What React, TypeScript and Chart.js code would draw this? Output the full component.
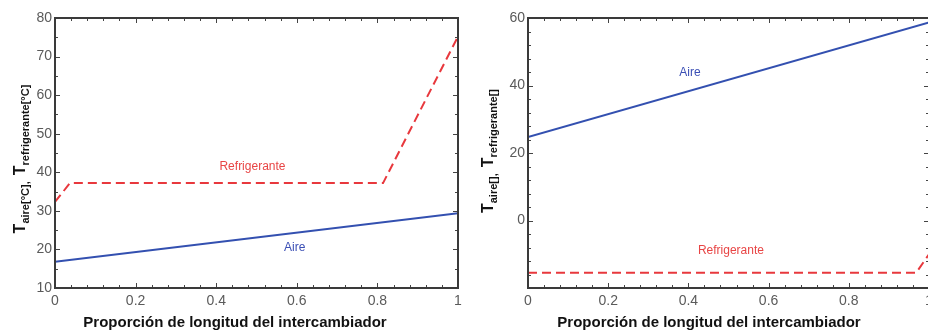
import React, { useEffect, useRef } from "react";
import { Chart, registerables } from "chart.js";
Chart.register(...registerables);

// ---- Data ----
const leftAireX = [0, 1];
const leftAireY = [16.8, 29.4];
const leftRefX = [0, 0.037, 0.814, 1];
const leftRefY = [32.3, 37.2, 37.2, 75.2];

const rightAireX = [0, 1];
const rightAireY = [24.7, 58.7];
const rightRefX = [0, 0.968, 1];
const rightRefY = [-15.5, -15.5, -10];

const xTickLabels = ["0", "0.2", "0.4", "0.6", "0.8", "1"];
const leftYRange = [10, 80];
const rightYRange = [-20, 60];

// inline series labels: [x, y] in data coords
const leftLabelRef = [0.49, 41.4];
const leftLabelAire = [0.595, 20.4];
const rightLabelAire = [0.404, 43.8];
const rightLabelRef = [0.506, -8.8];

const seriesNames = ["Aire", "Refrigerante"];
const xTitle = "Proporción de longitud del intercambiador";

const BLUE = "#3350b0";
const RED = "#e8383d";
const FONT = "'Liberation Sans', Arial, Helvetica, sans-serif";

type Cfg = {
  aire: { x: number[]; y: number[] };
  ref: { x: number[]; y: number[] };
  yMin: number;
  yMax: number;
  yStep: number;
  yMinor: number;
  hideY: number[];
  yAxisWidth: number;
  padRight: number;
  labelAire: number[];
  labelRef: number[];
  yTitleParts: [string, string, string, string];
  yTitleX: number;
  yTitleY: number;
  xTitleX: number;
};

function pts(xs: number[], ys: number[]) {
  return xs.map((x, i) => ({ x, y: ys[i] }));
}

function makeChart(canvas: HTMLCanvasElement, c: Cfg) {
  const decor = {
    id: "decor",
    afterDraw(chart: any) {
      const ctx = chart.ctx as CanvasRenderingContext2D;
      const a = chart.chartArea;
      const xs = chart.scales.x;
      const ys = chart.scales.y;
      ctx.save();
      // ticks inside on all four sides
      ctx.strokeStyle = "#444";
      ctx.lineWidth = 1;
      const xMinor = 0.04;
      for (let i = 0; i <= 25; i++) {
        const v = i * xMinor;
        const px = Math.round(xs.getPixelForValue(v)) + 0.5;
        const major = i % 5 === 0;
        const len = major ? 5 : 3;
        ctx.beginPath();
        ctx.moveTo(px, a.bottom);
        ctx.lineTo(px, a.bottom - len);
        ctx.moveTo(px, a.top);
        ctx.lineTo(px, a.top + len);
        ctx.stroke();
      }
      const nY = Math.round((c.yMax - c.yMin) / c.yMinor);
      const per = Math.round(c.yStep / c.yMinor);
      for (let i = 0; i <= nY; i++) {
        const v = c.yMin + i * c.yMinor;
        const py = Math.round(ys.getPixelForValue(v)) + 0.5;
        const major = i % per === 0;
        const len = major ? 5 : 3;
        ctx.beginPath();
        ctx.moveTo(a.left, py);
        ctx.lineTo(a.left + len, py);
        ctx.moveTo(a.right, py);
        ctx.lineTo(a.right - len, py);
        ctx.stroke();
      }
      // frame
      ctx.strokeStyle = "#3a3a3a";
      ctx.lineWidth = 2;
      ctx.strokeRect(a.left, a.top, a.right - a.left, a.bottom - a.top);

      // inline labels
      ctx.font = `12px ${FONT}`;
      ctx.textAlign = "center";
      ctx.textBaseline = "middle";
      ctx.fillStyle = "#3b4fb5";
      ctx.fillText(seriesNames[0], xs.getPixelForValue(c.labelAire[0]), ys.getPixelForValue(c.labelAire[1]));
      ctx.fillStyle = "#e84545";
      ctx.fillText(seriesNames[1], xs.getPixelForValue(c.labelRef[0]), ys.getPixelForValue(c.labelRef[1]));

      // x title
      ctx.fillStyle = "#111";
      ctx.font = `bold 15px ${FONT}`;
      ctx.textBaseline = "middle";
      ctx.fillText(xTitle, c.xTitleX, 323);

      // y title with subscripts (rotated)
      ctx.translate(c.yTitleX, c.yTitleY);
      ctx.rotate(-Math.PI / 2);
      ctx.textAlign = "left";
      ctx.textBaseline = "alphabetic";
      const big = `bold 16px ${FONT}`;
      const small = `bold 11px ${FONT}`;
      const segs: [string, string, number][] = [
        [c.yTitleParts[0], big, 0],
        [c.yTitleParts[1], small, 4],
        [c.yTitleParts[2], big, 0],
        [c.yTitleParts[3], small, 4],
      ];
      let total = 0;
      const widths = segs.map(([t, f]) => {
        ctx.font = f;
        const w = ctx.measureText(t).width;
        total += w;
        return w;
      });
      let x = -total / 2;
      segs.forEach(([t, f, dy], i) => {
        ctx.font = f;
        ctx.fillText(t, x, dy);
        x += widths[i];
      });
      ctx.restore();
    },
  };

  return new Chart(canvas, {
    type: "line",
    data: {
      datasets: [
        {
          label: seriesNames[0],
          data: pts(c.aire.x, c.aire.y),
          borderColor: BLUE,
          borderWidth: 2,
          pointRadius: 0,
          tension: 0,
        },
        {
          label: seriesNames[1],
          data: pts(c.ref.x, c.ref.y),
          borderColor: RED,
          borderWidth: 2,
          borderDash: [9, 5],
          pointRadius: 0,
          tension: 0,
        },
      ],
    },
    options: {
      animation: false,
      responsive: false,
      maintainAspectRatio: false,
      events: [],
      layout: { padding: { top: 18, right: c.padRight, left: 0, bottom: 0 } },
      plugins: { legend: { display: false }, tooltip: { enabled: false } },
      scales: {
        x: {
          type: "linear",
          min: 0,
          max: 1,
          grid: { display: false, drawTicks: false },
          border: { display: false },
          afterFit: (s: any) => {
            s.height = 43;
          },
          afterBuildTicks: (s: any) => {
            s.ticks = xTickLabels.map((l) => ({ value: parseFloat(l) }));
          },
          ticks: {
            color: "#5a5a5a",
            font: { family: FONT, size: 14 },
            padding: 5,
            maxRotation: 0,
            callback: (v: any) => {
              const i = xTickLabels.findIndex((l) => Math.abs(parseFloat(l) - v) < 1e-6);
              return i >= 0 ? xTickLabels[i] : "";
            },
          },
        },
        y: {
          type: "linear",
          min: c.yMin,
          max: c.yMax,
          grid: { display: false, drawTicks: false },
          border: { display: false },
          afterFit: (s: any) => {
            s.width = c.yAxisWidth;
          },
          ticks: {
            stepSize: c.yStep,
            color: "#5a5a5a",
            font: { family: FONT, size: 14 },
            padding: 3,
            callback: (v: any) => (c.hideY.includes(v) ? "" : String(v)),
          },
        },
      },
    },
    plugins: [decor],
  } as any);
}

export default function App() {
  const leftRef = useRef<HTMLCanvasElement>(null);
  const rightRef = useRef<HTMLCanvasElement>(null);

  useEffect(() => {
    document.body.style.margin = "0";
    const l = makeChart(leftRef.current!, {
      aire: { x: leftAireX, y: leftAireY },
      ref: { x: leftRefX, y: leftRefY },
      yMin: leftYRange[0],
      yMax: leftYRange[1],
      yStep: 10,
      yMinor: 5,
      hideY: [],
      yAxisWidth: 55,
      padRight: 16,
      labelAire: leftLabelAire,
      labelRef: leftLabelRef,
      yTitleParts: ["T", "aire[°C],  ", "T", "refrigerante[°C]"],
      yTitleX: 25,
      yTitleY: 159,
      xTitleX: 235,
    });
    const r = makeChart(rightRef.current!, {
      aire: { x: rightAireX, y: rightAireY },
      ref: { x: rightRefX, y: rightRefY },
      yMin: rightYRange[0],
      yMax: rightYRange[1],
      yStep: 20,
      yMinor: 4,
      hideY: [-20],
      yAxisWidth: 64,
      padRight: 15,
      labelAire: rightLabelAire,
      labelRef: rightLabelRef,
      yTitleParts: ["T", "aire[],  ", "T", "refrigerante[]"],
      yTitleX: 29,
      yTitleY: 151,
      xTitleX: 245,
    });
    return () => {
      l.destroy();
      r.destroy();
    };
  }, []);

  return (
    <div style={{ position: "absolute", left: 0, top: 0, width: 928, height: 331, overflow: "hidden", background: "#fff" }}>
      <canvas ref={leftRef} width={474} height={331} style={{ position: "absolute", left: 0, top: 0, width: 474, height: 331 }} />
      <canvas ref={rightRef} width={480} height={331} style={{ position: "absolute", left: 464, top: 0, width: 480, height: 331 }} />
    </div>
  );
}
